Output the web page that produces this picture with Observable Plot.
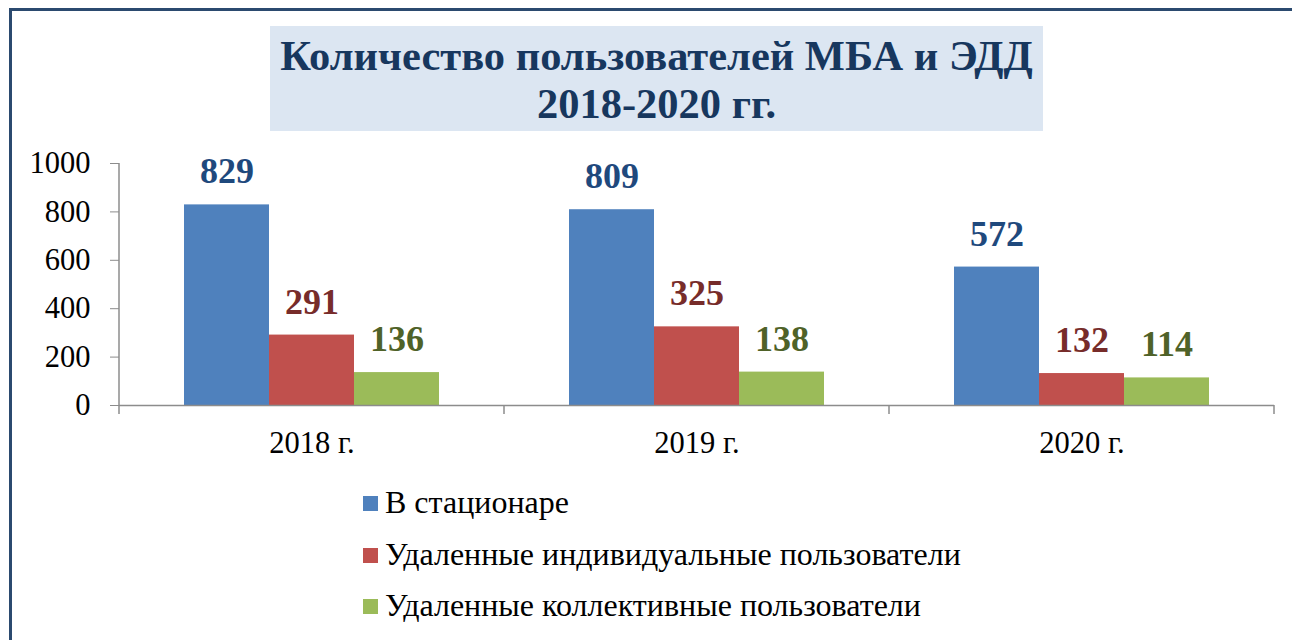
<!DOCTYPE html>
<html>
<head>
<meta charset="utf-8">
<script src="https://cdn.jsdelivr.net/npm/d3@7"></script>
<script src="https://cdn.jsdelivr.net/npm/@observablehq/plot@0.6"></script>
<style>
  html, body { margin: 0; padding: 0; background: #fff; }
  body { width: 1292px; height: 640px; position: relative; overflow: hidden; font-family: "Liberation Serif", "Times New Roman", serif; }
  #frame { position: absolute; left: 9px; top: 8px; width: 1300px; height: 700px; border-top: 3px solid #2b4a6f; border-left: 3px solid #2b4a6f; box-sizing: border-box; }
  #title { position: absolute; left: 270px; top: 26px; width: 773px; height: 105px; background: #dce6f2; }
  #title div { position: absolute; left: 0; top: 6px; width: 100%; text-align: center; font-weight: bold; font-size: 42.5px; line-height: 48px; color: #17375e; }
  #chart { position: absolute; left: 0; top: 140px; }
  #legend { position: absolute; left: 363px; top: 486px; }
  .row { position: relative; height: 51.5px; }
  .sw { position: absolute; left: 0; top: 10px; width: 15px; height: 15px; }
  .lab { position: absolute; left: 22px; top: -2px; font-size: 32px; line-height: 36px; color: #000; white-space: nowrap; }
</style>
</head>
<body>
<div id="frame"></div>
<div id="title"><div>Количество пользователей МБА и ЭДД<br>2018-2020 гг.</div></div>
<div id="chart"></div>
<div id="legend"></div>
<script>
const years = ["2018 г.", "2019 г.", "2020 г."];
const seriesNames = ["В стационаре", "Удаленные индивидуальные пользователи", "Удаленные коллективные пользователи"];
const stationary = [829, 809, 572];
const remoteIndividual = [291, 325, 132];
const remoteCollective = [136, 138, 114];
const yTicks = [0, 200, 400, 600, 800, 1000];
const barColors = ["#4f81bd", "#c0504d", "#9bbb59"];
const labelColors = ["#1f497d", "#772c2a", "#4f6228"];

const seriesValues = [stationary, remoteIndividual, remoteCollective];
const data = [];
years.forEach((yr, i) => seriesNames.forEach((s, j) => data.push({year: yr, series: s, value: seriesValues[j][i]})));

const font = "Liberation Serif, Times New Roman, serif";

const textMarks = seriesNames.map((s, j) =>
  Plot.text(data.filter(d => d.series === s), {
    fx: "year", x: "series", y: "value", text: d => String(d.value),
    fill: labelColors[j], fontWeight: "bold", fontSize: 36, fontFamily: font,
    lineAnchor: "middle", dy: -33
  })
);

const chart = Plot.plot({
  width: 1292,
  height: 330,
  marginTop: 23,
  marginBottom: 65,
  marginLeft: 118,
  marginRight: 17,
  style: {fontFamily: font, color: "#000", background: "transparent", overflow: "visible"},
  fx: {domain: years, padding: 0, label: null},
  x: {domain: seriesNames, paddingInner: 0, paddingOuter: 0.76, axis: null},
  y: {domain: [0, 1000], label: null},
  color: {domain: seriesNames, range: barColors},
  marks: [
    Plot.barY(data, {fx: "year", x: "series", y: "value", fill: "series"}),
    Plot.ruleY([0], {stroke: "#8c8c8c", strokeWidth: 1.5}),
    Plot.axisY({ticks: yTicks, tickSize: 9, tickPadding: 20, tickFormat: d => String(d), stroke: "#8c8c8c", fill: "#000", fontSize: 30.5, fontFamily: font, label: null}),
    Plot.axisFx({anchor: "bottom", tickSize: 0, tickPadding: 26, fontSize: 30.5, fontFamily: font, label: null, fill: "#000"}),
    ...textMarks
  ]
});
document.getElementById("chart").appendChild(chart);

// axis line and category boundary ticks, placed via Plot's scales
const fx = chart.scale("fx");
const yS = chart.scale("y");
const y0 = yS.apply(0), yTop = yS.apply(1000);
const svg = d3.select(chart);
const g = svg.append("g").attr("stroke", "#8c8c8c").attr("stroke-width", 1.5);
const left = fx.apply(years[0]);
g.append("line").attr("x1", left).attr("x2", left).attr("y1", yTop).attr("y2", y0 + 9);
years.forEach((yr, i) => {
  const xr = fx.apply(yr) + fx.bandwidth;
  g.append("line").attr("x1", xr).attr("x2", xr).attr("y1", y0).attr("y2", y0 + 9);
});

// legend
const legend = d3.select("#legend");
seriesNames.forEach((s, j) => {
  const row = legend.append("div").attr("class", "row");
  row.append("div").attr("class", "sw").style("background", barColors[j]);
  row.append("div").attr("class", "lab").text(s);
});
</script>
</body>
</html>
